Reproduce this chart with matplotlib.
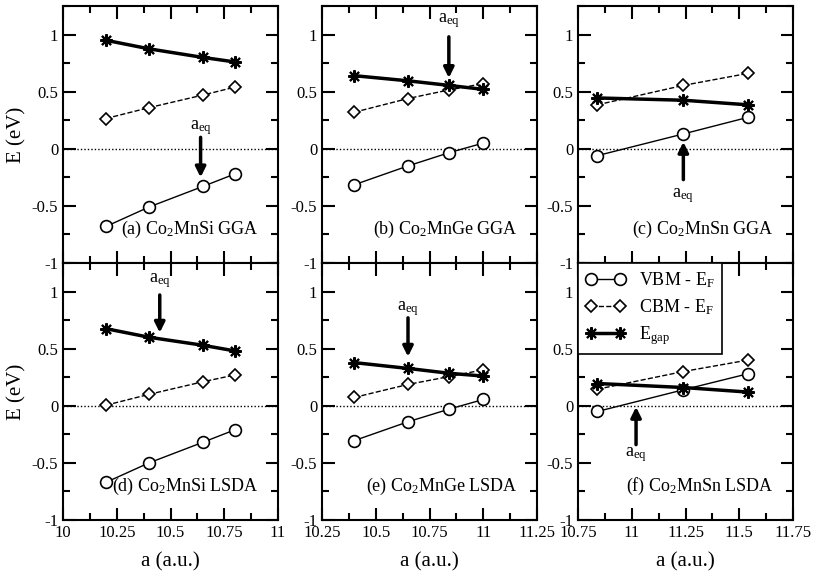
import matplotlib
matplotlib.use("Agg")
import matplotlib.pyplot as plt
from matplotlib.ticker import MultipleLocator

plt.rcParams['font.family'] = ['Liberation Serif', 'DejaVu Serif']
plt.rcParams['mathtext.fontset'] = 'custom'
plt.rcParams['mathtext.rm'] = 'Liberation Serif'
plt.rcParams['mathtext.it'] = 'Liberation Serif:italic'

# lattice constants (a.u.)
a_si = [10.2, 10.4, 10.65, 10.8]
a_ge = [10.4, 10.65, 10.84, 11.0]
a_sn = [10.84, 11.24, 11.54]

# GGA
vbm_si_gga = [-0.68, -0.51, -0.33, -0.22]
cbm_si_gga = [0.265, 0.36, 0.47, 0.54]
gap_si_gga = [0.95, 0.875, 0.80, 0.76]
vbm_ge_gga = [-0.315, -0.15, -0.035, 0.05]
cbm_ge_gga = [0.32, 0.44, 0.515, 0.57]
gap_ge_gga = [0.64, 0.595, 0.555, 0.52]
vbm_sn_gga = [-0.06, 0.13, 0.275]
cbm_sn_gga = [0.385, 0.555, 0.66]
gap_sn_gga = [0.445, 0.425, 0.385]

# LSDA
vbm_si_lsda = [-0.67, -0.50, -0.32, -0.21]
cbm_si_lsda = [0.005, 0.10, 0.21, 0.27]
gap_si_lsda = [0.675, 0.60, 0.53, 0.48]
vbm_ge_lsda = [-0.305, -0.14, -0.03, 0.055]
cbm_ge_lsda = [0.073, 0.187, 0.255, 0.315]
gap_ge_lsda = [0.378, 0.327, 0.285, 0.26]
vbm_sn_lsda = [-0.05, 0.14, 0.28]
cbm_sn_lsda = [0.145, 0.30, 0.40]
gap_sn_lsda = [0.195, 0.16, 0.12]

panel_labels = [r"(a) Co$_2$MnSi GGA", r"(b) Co$_2$MnGe GGA", r"(c) Co$_2$MnSn GGA",
                r"(d) Co$_2$MnSi LSDA", r"(e) Co$_2$MnGe LSDA", r"(f) Co$_2$MnSn LSDA"]

# equilibrium lattice constant arrows: x, tail y, tip y, label y
aeq_x = [10.64, 10.84, 11.24, 10.45, 10.65, 11.02]
aeq_tail = [0.10, 0.98, -0.27, 0.97, 0.77, -0.34]
aeq_tip = [-0.25, 0.62, 0.06, 0.64, 0.43, -0.01]
aeq_label = [0.19, 1.12, -0.41, 1.10, 0.85, -0.43]

xlims = [(10, 11), (10.25, 11.25), (10.75, 11.75)]

panels = [
    (a_si, vbm_si_gga, cbm_si_gga, gap_si_gga),
    (a_ge, vbm_ge_gga, cbm_ge_gga, gap_ge_gga),
    (a_sn, vbm_sn_gga, cbm_sn_gga, gap_sn_gga),
    (a_si, vbm_si_lsda, cbm_si_lsda, gap_si_lsda),
    (a_ge, vbm_ge_lsda, cbm_ge_lsda, gap_ge_lsda),
    (a_sn, vbm_sn_lsda, cbm_sn_lsda, gap_sn_lsda),
]

fig = plt.figure(figsize=(8.14, 5.78), dpi=100)
lefts = [63 / 814, 322 / 814, 578 / 814]
bottoms = [1 - 263 / 578, 1 - 520 / 578]
w = 215 / 814
h = 257 / 578

for i, (x, vbm, cbm, gap) in enumerate(panels):
    row, col = divmod(i, 3)
    ax = fig.add_axes([lefts[col], bottoms[row], w, h])
    ax.axhline(0, color='k', lw=1, ls=(0, (1, 1.5)))
    ax.plot(x, vbm, '-', color='k', lw=1, marker='o', ms=8.5, mfc='white',
            mec='k', mew=1.2, label=r"VBM - E$_\mathrm{F}$")
    ax.plot(x, cbm, '--', color='k', lw=1, marker='D', ms=6.5, mfc='white',
            mec='k', mew=1.2, label=r"CBM - E$_\mathrm{F}$")
    ax.plot(x, gap, '-', color='k', lw=2.5, marker=(8, 2, 0), ms=9,
            mec='k', mew=1.5, label=r"E$_\mathrm{gap}$")

    ax.annotate('', xy=(aeq_x[i], aeq_tip[i]), xytext=(aeq_x[i], aeq_tail[i]),
                arrowprops=dict(arrowstyle='-|>,head_length=0.6,head_width=0.3',
                                lw=2.5, color='k', shrinkA=0, shrinkB=0))
    ax.text(aeq_x[i], aeq_label[i], r"a$_\mathrm{eq}$", ha='center', va='center',
            fontsize=13)

    ax.text(0.91, 0.115, panel_labels[i], transform=ax.transAxes,
            ha='right', va='baseline', fontsize=13)

    ax.set_xlim(*xlims[col])
    ax.set_ylim(-1, 1.25)
    ax.xaxis.set_major_locator(MultipleLocator(0.25))
    ax.xaxis.set_minor_locator(MultipleLocator(0.125))
    ax.yaxis.set_major_locator(MultipleLocator(0.5))
    ax.yaxis.set_minor_locator(MultipleLocator(0.25))
    ax.set_yticks([-1, -0.5, 0, 0.5, 1])
    ax.set_yticklabels(['-1', '-0.5', '0', '0.5', '1'])
    ax.tick_params(which='both', direction='in', top=True, right=True,
                   width=1.5, labelsize=12)
    ax.tick_params(which='major', length=9)
    ax.tick_params(which='minor', length=5)
    for s in ax.spines.values():
        s.set_linewidth(1.5)

    if row == 0:
        ax.set_xticklabels([])
    else:
        ticks = [xlims[col][0] + 0.25 * k for k in range(5)]
        ax.set_xticks(ticks)
        ax.set_xticklabels([f"{t:g}" for t in ticks])
        ax.set_xlabel("a (a.u.)", fontsize=15, labelpad=8)
    if col == 0:
        ax.set_ylabel("E (eV)", fontsize=15)

    if i == 5:
        leg = ax.legend(loc='upper left', borderaxespad=0, numpoints=2,
                        fancybox=False, edgecolor='k', framealpha=1,
                        fontsize=13, handlelength=2.2, labelspacing=0.4)
        leg.get_frame().set_linewidth(1.2)

fig.savefig("out.png", dpi=100)
